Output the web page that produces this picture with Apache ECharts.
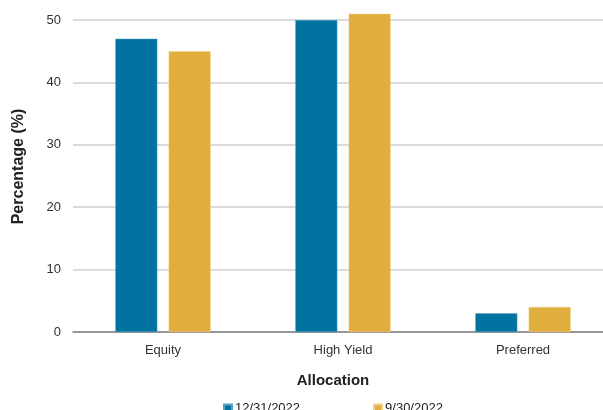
<!DOCTYPE html>
<html><head><meta charset="utf-8">
<script src="https://cdn.jsdelivr.net/npm/echarts@6/dist/echarts.min.js"></script>
<style>html,body{margin:0;padding:0;background:#fff;overflow:hidden}#c{width:613px;height:410px}</style>
</head><body><div id="c"></div>
<script>
const categories = ["Equity", "High Yield", "Preferred"];
const seriesNames = ["12/31/2022", "9/30/2022"];
const dec2022 = [47, 50, 3];
const sep2022 = [45, 51, 4];
const yTicks = [0, 10, 20, 30, 40, 50];

const font = "Liberation Sans, Arial, sans-serif";
const chart = echarts.init(document.getElementById('c'));
chart.setOption({
  animation: false,
  textStyle: { fontFamily: font },
  grid: { left: 73, top: 20, right: 0, height: 312, containLabel: false },
  legend: {
    data: seriesNames,
    left: 218, top: 397, itemWidth: 8, itemHeight: 8, itemGap: 73, icon: 'rect',
    textStyle: { fontSize: 13, color: '#222', fontFamily: font, padding: [0, 0, 0, -2] }
  },
  xAxis: {
    type: 'category', data: categories,
    name: 'Allocation', nameLocation: 'middle', nameGap: 41,
    nameTextStyle: { fontWeight: 'bold', fontSize: 15, color: '#222', padding: [0, 20, 0, 0] },
    axisLine: { lineStyle: { color: '#808080', width: 1.5 } },
    axisTick: { show: false },
    axisLabel: { fontSize: 13, color: '#333', margin: 12 }
  },
  yAxis: {
    type: 'value', min: yTicks[0], max: yTicks[yTicks.length - 1], interval: 10,
    name: 'Percentage (%)', nameLocation: 'middle', nameGap: 46,
    nameTextStyle: { fontWeight: 'bold', fontSize: 16, color: '#222', padding: [0, 0, 0, 19] },
    axisLine: { show: false }, axisTick: { show: false },
    axisLabel: { fontSize: 13, color: '#333', margin: 12 },
    splitLine: { lineStyle: { color: '#cfcfcf', width: 1.5 } }
  },
  series: [
    { name: seriesNames[0], type: 'bar', data: dec2022, barWidth: 42, barGap: '27%', clip: false,
      itemStyle: { color: '#0073A1', borderColor: '#5aa3c4', borderWidth: 0.5 } },
    { name: seriesNames[1], type: 'bar', data: sep2022, barWidth: 42, clip: false,
      itemStyle: { color: '#E0AE3C', borderColor: '#f0d08a', borderWidth: 0.5 } }
  ]
});
</script></body></html>
